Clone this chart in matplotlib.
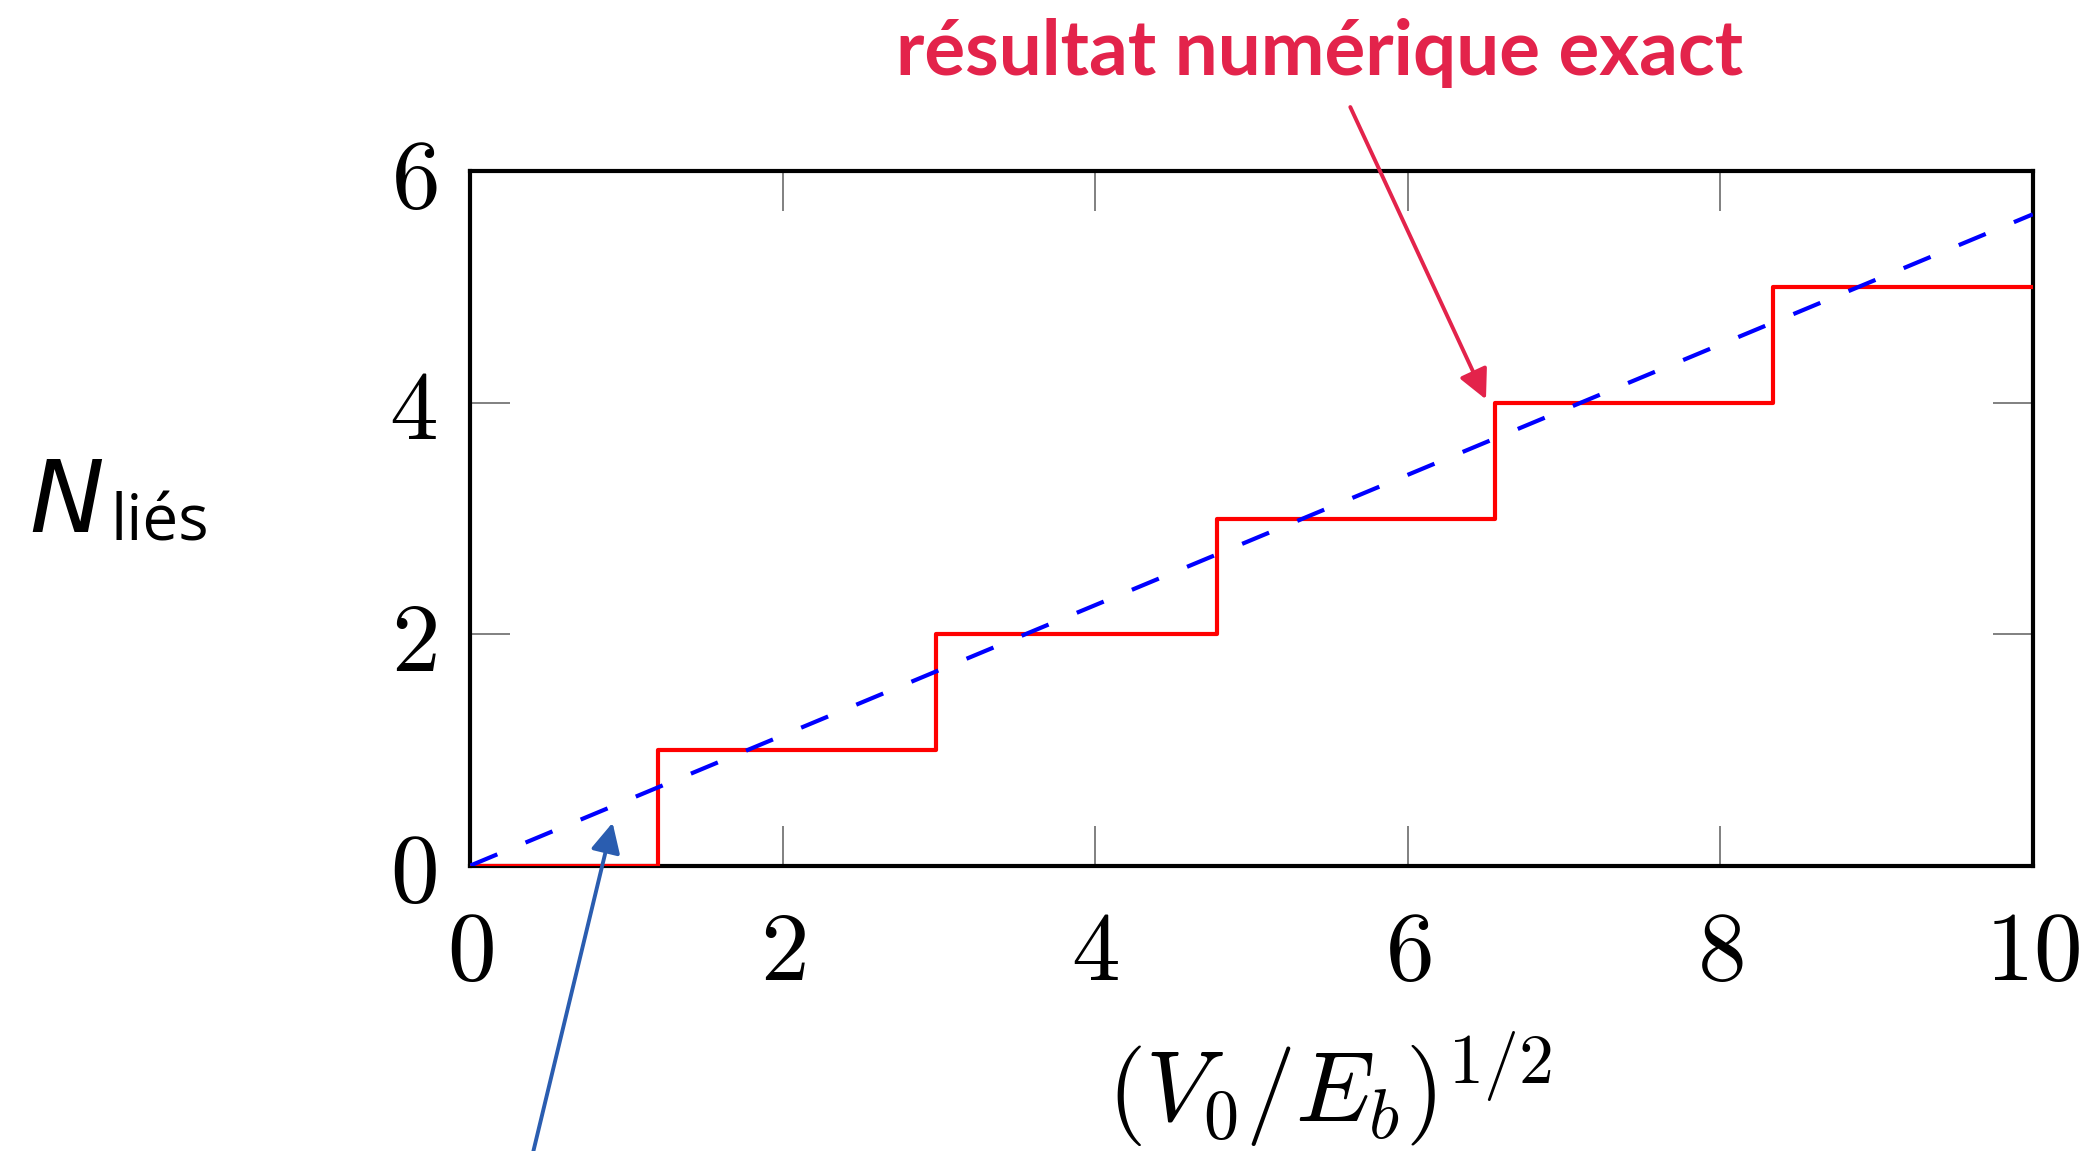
import matplotlib.pyplot as plt
import numpy as np

plt.rcParams['mathtext.fontset'] = 'cm'
plt.rcParams['lines.scale_dashes'] = False

# exact numerical result: number of bound states (staircase)
step_x = [0, 1.20, 2.98, 4.78, 6.56, 8.34, 10]
step_n = [0, 1, 2, 3, 4, 5, 5]

# semi-classical estimate (straight dashed line)
wkb_x = [0, 10]
wkb_n = [0, 5.63]

x_ticks = [0, 2, 4, 6, 8, 10]
y_ticks = [0, 2, 4, 6]

fig = plt.figure(figsize=(21, 11.51), dpi=100)
ax = fig.add_axes([0.224, 0.248, 0.744, 0.603])

ax.step(step_x, step_n, where='post', color='#ff0000', lw=3.0, zorder=3)
ax.plot(wkb_x, wkb_n, color='#0000ff', lw=3.0, dashes=(21, 22), zorder=4)

ax.set_xlim(0, 10)
ax.set_ylim(0, 6)
ax.set_xticks(x_ticks)
ax.set_yticks(y_ticks)
ax.set_xticklabels([r'$%d$' % v for v in x_ticks])
ax.set_yticklabels([r'$%d$' % v for v in y_ticks])
ax.tick_params(direction='in', length=29, width=1.4, color='#808080',
               top=True, right=True, labelsize=70)
ax.tick_params(axis='x', pad=30)
ax.tick_params(axis='y', pad=24)
for s in ax.spines.values():
    s.set_linewidth(3.0)
    s.set_color('black')

# axis labels
fig.text(0.633, 0.025, r'$\left(V_0/E_b\right)^{1/2}$', fontsize=72,
         ha='center', va='baseline')
fig.text(0.014, 0.538, 'N', fontsize=72, style='italic', family='DejaVu Sans',
         ha='left', va='baseline')
fig.text(0.0525, 0.530, 'liés', fontsize=46, family='Open Sans',
         ha='left', va='baseline')

# annotations
red_c = '#e3234b'
fig.text(0.6284, 0.935, 'résultat numérique exact', fontsize=55, weight='bold',
         color=red_c, family='Lato', ha='center', va='baseline')
ax.annotate('', xy=(6.5, 4.03), xycoords='data',
            xytext=(0.643, 0.907), textcoords='figure fraction',
            arrowprops=dict(arrowstyle='-|>', color=red_c, lw=2.8,
                            mutation_scale=45, shrinkA=0, shrinkB=0))

blue_c = '#2a5db0'
ax.annotate('', xy=(0.91, 0.37), xycoords='data',
            xytext=(0.254, 0.0), textcoords='figure fraction',
            arrowprops=dict(arrowstyle='-|>', color=blue_c, lw=2.8,
                            mutation_scale=45, shrinkA=0, shrinkB=0),
            annotation_clip=False)

fig.savefig('out.png', dpi=100)
